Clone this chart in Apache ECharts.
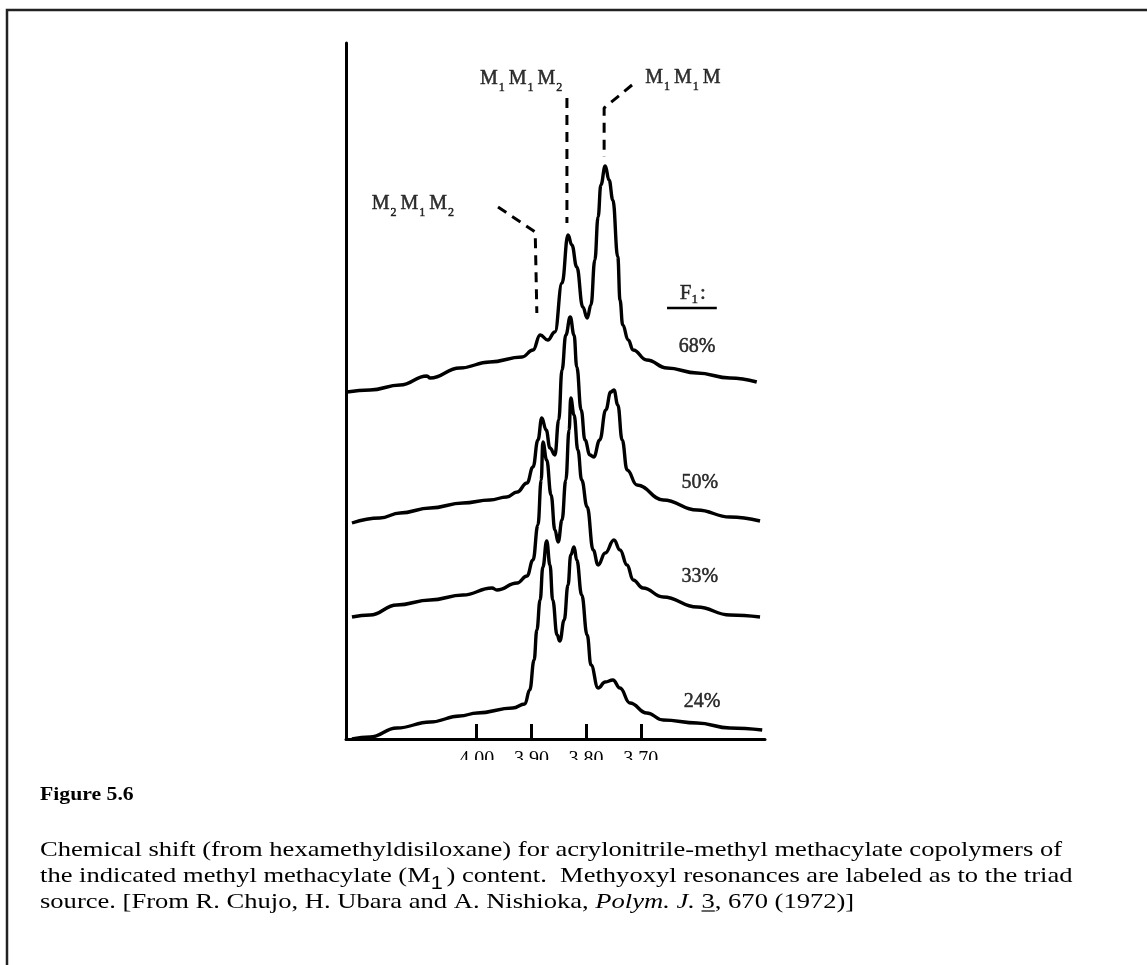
<!DOCTYPE html>
<html><head><meta charset="utf-8">
<script src="https://cdn.jsdelivr.net/npm/echarts@6/dist/echarts.min.js"></script>
<style>html,body{margin:0;padding:0;background:#fff}#c{width:1147px;height:965px}</style>
</head><body><div id="c"></div>
<script>
// ---- data (chemical shift in ppm, intensity in arbitrary stacked units) ----
const tickValues = [4.0, 3.9, 3.8, 3.7];
const tickLabels = ['4.00', '3.90', '3.80', '3.70'];
const traceNames = ['68%', '50%', '33%', '24%'];

const trace68 = [[4.237,347],[4.195,349],[4.140,354],[4.091,363],[4.085,361],[4.031,371],[3.976,377],[3.917,382],[3.897,389],[3.884,404],[3.870,399],[3.857,407],[3.844,456],[3.833,504],[3.826,494],[3.817,472],[3.806,432],[3.798,421],[3.791,434],[3.784,479],[3.778,522],[3.773,554],[3.765,573],[3.758,559],[3.751,539],[3.742,482],[3.738,439],[3.733,414],[3.723,399],[3.714,389],[3.689,379],[3.652,371],[3.597,366],[3.537,361],[3.488,357]];
const trace50 = [[4.228,216],[4.177,221],[4.140,226],[4.085,231],[4.025,236],[3.976,239],[3.945,242],[3.926,247],[3.908,256],[3.897,272],[3.888,299],[3.881,321],[3.873,309],[3.866,291],[3.857,284],[3.850,319],[3.844,369],[3.837,404],[3.829,422],[3.822,404],[3.817,372],[3.809,329],[3.802,299],[3.793,284],[3.786,282],[3.775,299],[3.764,329],[3.755,347],[3.749,349],[3.742,334],[3.734,299],[3.725,269],[3.707,254],[3.659,239],[3.597,229],[3.537,222],[3.482,218]];
const trace33 = [[4.228,122],[4.195,124],[4.146,134],[4.085,139],[4.025,144],[3.972,151],[3.963,149],[3.926,156],[3.908,163],[3.897,179],[3.888,214],[3.882,259],[3.879,297],[3.872,279],[3.864,244],[3.857,209],[3.851,197],[3.844,219],[3.837,259],[3.831,309],[3.828,341],[3.822,324],[3.815,289],[3.808,259],[3.798,232],[3.787,189],[3.778,174],[3.765,186],[3.749,199],[3.738,189],[3.725,174],[3.714,159],[3.696,151],[3.659,142],[3.597,132],[3.537,124],[3.482,122]];
const trace24 = [[4.228,0],[4.195,2],[4.146,11],[4.085,17],[4.031,23],[3.999,26],[3.934,31],[3.912,35],[3.903,49],[3.895,79],[3.890,109],[3.884,139],[3.879,172],[3.872,198],[3.866,174],[3.861,139],[3.853,104],[3.848,98],[3.840,119],[3.833,154],[3.828,184],[3.822,192],[3.817,179],[3.808,144],[3.798,104],[3.791,74],[3.778,51],[3.765,57],[3.751,59],[3.738,51],[3.720,36],[3.689,26],[3.659,19],[3.597,16],[3.537,11],[3.478,9]];

// triad assignment leaders (dashed)
const leaderM1M1M = [[3.716,654],[3.767,631],[3.767,582]];
const leaderM1M1M2 = [[3.835,641],[3.835,516]];
const leaderM2M1M2 = [[3.961,532],[3.893,507],[3.890,426]];
const f1Underline = [[3.652,431],[3.561,431]];

// text annotations anchored in data space
const triadLabels = [
  {text: '{m|M}{s|1}{m|M}{s|1}{m|M}{s|2}', at: [3.915,659]},
  {text: '{m|M}{s|1}{m|M}{s|1}{m|M}', at: [3.623,660]},
  {text: '{m|M}{s|2}{m|M}{s|1}{m|M}{s|2}', at: [4.113,534]}
];
const f1Label = {text: '{f|F}{g|1}{f|:}', at: [3.605,444]};
const pctAnchors = [[3.597,392],[3.592,256],[3.592,162],[3.588,37]];

// ---- rendering ----
const SERIF = '"Liberation Serif","Times New Roman",serif';
const chart = echarts.init(document.getElementById('c'));

const cv = document.createElement('canvas').getContext('2d');
function tw(t, font){ cv.font = font; return cv.measureText(t).width; }
const capSize = 22;
const fN = capSize + 'px "Liberation Serif"';
const fI = 'italic ' + fN;
const cap1 = 'Chemical shift (from hexamethyldisiloxane) for acrylonitrile-methyl methacylate copolymers of';
const cap2a = 'the indicated methyl methacylate (M';
const cap2b = ') content.  Methyoxyl resonances are labeled as to the triad';
const cap3a = 'source. [From R. Chujo, H. Ubara and A. Nishioka, ';
const cap3i = 'Polym. J.';
const cap3b = ' 3, 670 (1972)]';
const sx = 1022 / tw(cap1, fN);
const ulX = 40 + sx * (tw(cap3a, fN) + tw(cap3i, fI) + tw(' ', fN));
const ulW = sx * tw('3', fN);

const ink = {color: '#000', textBorderColor: '#000', textBorderWidth: 0.5};
const richM = {
  m: Object.assign({fontFamily: SERIF, fontSize: 20, lineHeight: 22, verticalAlign: 'top'}, ink),
  s: Object.assign({fontFamily: SERIF, fontSize: 12, lineHeight: 12, verticalAlign: 'top', padding: [13, 4, 0, 1]}, ink),
  f: Object.assign({fontFamily: SERIF, fontSize: 21, lineHeight: 24, verticalAlign: 'top'}, ink),
  g: Object.assign({fontFamily: SERIF, fontSize: 13, lineHeight: 13, verticalAlign: 'top', padding: [10, 2, 0, 0]}, ink)
};

const labelData = triadLabels.map(l => ({value: l.at, label: {formatter: l.text}}))
  .concat([{value: f1Label.at, label: {formatter: f1Label.text}}])
  .concat(pctAnchors.map((p, i) => ({value: p, label: Object.assign({formatter: traceNames[i], fontFamily: SERIF, fontSize: 20}, ink)})));

function spectrum(name, data){
  return {name, type: 'line', data, symbol: 'none', smooth: 0.45, smoothMonotone: 'x',
    lineStyle: {color: '#000', width: 3.4, join: 'round'}, z: 3};
}
function leader(data){
  return {type: 'line', data, symbol: 'none', lineStyle: {color: '#000', width: 3, type: [10, 7], cap: 'butt'}, z: 2};
}

chart.setOption({
  animation: false,
  backgroundColor: '#fff',
  grid: {left: 346, top: 43, width: 419, height: 696},
  xAxis: {
    type: 'value', inverse: true, min: 3.4729, max: 4.2389,
    axisLine: {show: true, lineStyle: {color: '#000', width: 3}},
    axisTick: {show: true, inside: true, length: 15, customValues: tickValues, lineStyle: {color: '#000', width: 3}},
    axisLabel: {show: true, customValues: tickValues, margin: 11, fontFamily: SERIF, fontSize: 20, color: '#000',
      formatter: v => { const i = tickValues.findIndex(t => Math.abs(t - v) < 1e-6); return i >= 0 ? tickLabels[i] : ''; }},
    splitLine: {show: false}
  },
  yAxis: {
    type: 'value', min: 0, max: 696,
    axisLine: {show: true, lineStyle: {color: '#000', width: 3}},
    axisTick: {show: false}, axisLabel: {show: false}, splitLine: {show: false}
  },
  series: [
    spectrum(traceNames[0], trace68),
    spectrum(traceNames[1], trace50),
    spectrum(traceNames[2], trace33),
    spectrum(traceNames[3], trace24),
    leader(leaderM1M1M), leader(leaderM1M1M2), leader(leaderM2M1M2),
    {type: 'line', data: f1Underline, symbol: 'none', lineStyle: {color: '#000', width: 2.5}},
    {type: 'scatter', data: labelData, symbolSize: 1, itemStyle: {color: 'rgba(0,0,0,0)'},
      label: {show: true, position: 'inside', rich: richM, color: '#000'}, z: 5}
  ],
  graphic: [
    {type: 'polyline', z: 50, shape: {points: [[1147, 10], [7, 10], [7, 965]]}, style: {stroke: '#222', lineWidth: 2.5, fill: null}},
    {type: 'rect', z: 100, shape: {x: 400, y: 760, width: 360, height: 26}, style: {fill: '#fff'}},
    {type: 'text', z: 60, x: 40, y: 795, scaleX: sx, style: {text: 'Figure 5.6', font: 'bold 18px "Liberation Serif"', fill: '#000', verticalAlign: 'middle'}},
    {type: 'text', z: 60, x: 40, y: 850, scaleX: sx, style: {text: cap1, font: fN, fill: '#000', verticalAlign: 'middle'}},
    {type: 'text', z: 60, x: 40, y: 877, scaleX: sx, style: {
      text: '{n|' + cap2a + '}{sb|1}{n|' + cap2b + '}', verticalAlign: 'middle',
      rich: {n: {font: fN, fill: '#000', lineHeight: 24, verticalAlign: 'top'},
             sb: {fontFamily: '"Liberation Sans",Arial,sans-serif', fontSize: 18, fill: '#000', lineHeight: 18, verticalAlign: 'top', padding: [10, 3, 0, 0]}}}},
    {type: 'text', z: 60, x: 40, y: 902, scaleX: sx, style: {
      text: '{n|' + cap3a + '}{i|' + cap3i + '}{n|' + cap3b + '}', verticalAlign: 'middle',
      rich: {n: {font: fN, fill: '#000'}, i: {font: fI, fill: '#000'}}}},
    {type: 'line', z: 60, shape: {x1: ulX, y1: 911, x2: ulX + ulW, y2: 911}, style: {stroke: '#000', lineWidth: 1.2}}
  ]
});
</script>
</body></html>
